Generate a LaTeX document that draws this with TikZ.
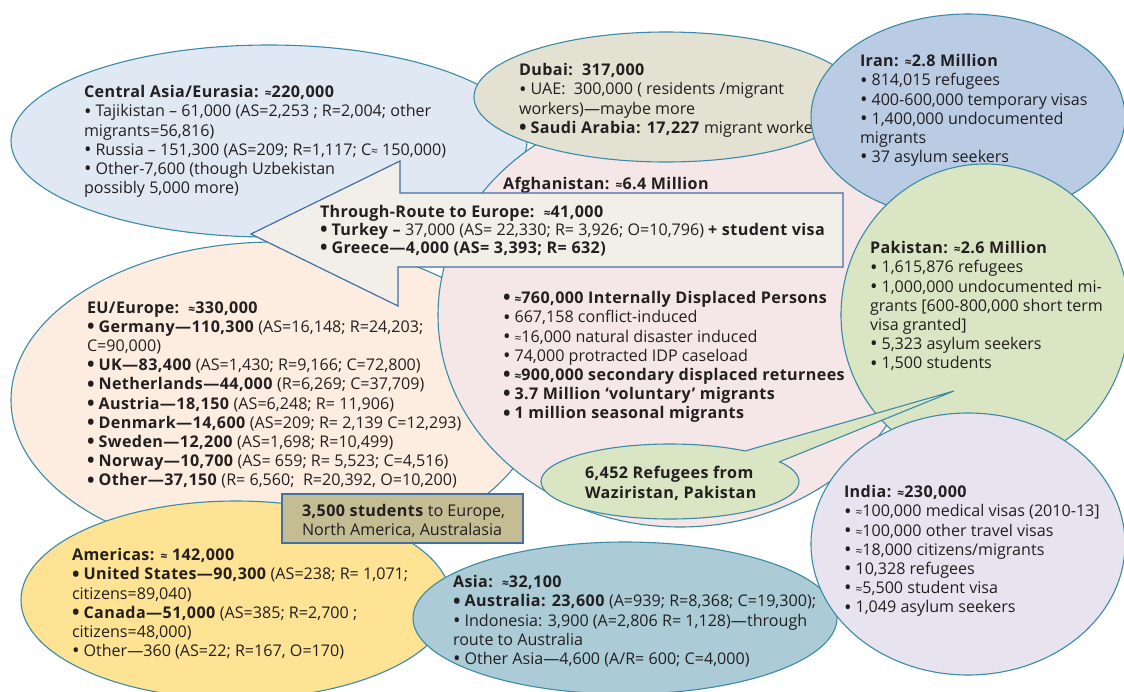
\documentclass[tikz,border=0pt]{standalone}
\usepackage{fontspec}
\setmainfont{Open Sans}[BoldFeatures={LetterSpace=2.5}]
\usetikzlibrary{shapes.geometric}
\definecolor{edgeteal}{HTML}{3C8AA6}
\definecolor{edgeblue}{HTML}{446FA3}
\definecolor{inkc}{HTML}{231F20}
\definecolor{caF}{HTML}{E0E9F3}
\definecolor{euF}{HTML}{FDEDE1}
\definecolor{afF}{HTML}{F5E6E7}
\definecolor{duF}{HTML}{E3E1D1}
\definecolor{irF}{HTML}{B9CCE4}
\definecolor{pkF}{HTML}{DAE5C3}
\definecolor{thF}{HTML}{F1EFE8}
\definecolor{amF}{HTML}{FDE393}
\definecolor{stF}{HTML}{C4BC92}
\definecolor{asF}{HTML}{ABCCD7}
\definecolor{inF}{HTML}{E7E4EF}
\newcommand{\ap}{{\fontsize{12}{12}\selectfont ≈}}
\newcommand{\bu}{{\fontsize{20}{20}\selectfont\raisebox{-1.2pt}{•}}\hspace{.25em}}
\tikzset{
  blob/.style={ellipse,draw=edgeteal,line width=1.1pt,inner sep=0pt,outer sep=0pt},
  txt/.style={anchor=north west,inner sep=0pt,outer sep=0pt,align=left,text=inkc,yshift=-2.5pt,
    font=\fontsize{16.1}{19.2}\selectfont,execute at begin node=\strut},
  arrowtxt/.style={txt,font=\fontsize{16.1}{17.7}\selectfont},
  arrowshape/.style={draw=edgeblue,line width=1.2pt,fill=thF,line join=miter}
}
\begin{document}
\begin{tikzpicture}[x=1pt,y=-1pt]
\clip (0,0) rectangle (1124,691);
\fill[white] (0,0) rectangle (1124,691);
% Central Asia
\node[blob,fill=caF,minimum width=516pt,minimum height=192pt] (ca) at (269,141) {};
\node[txt] (caT) at (84,83) {\textbf{Central Asia/Eurasia: \ap220,000}\\
\bu Tajikistan – 61,000 (AS=2,253 ; R=2,004; other\\
migrants=56,816)\\
\bu Russia – 151,300 (AS=209; R=1,117; C\ap\ 150,000)\\
\bu Other-7,600 (though Uzbekistan\\
possibly 5,000 more)};
% EU
\node[blob,fill=euF,minimum width=528pt,minimum height=316pt] (eu) at (275,400) {};
% Afghanistan
\node[blob,fill=afF,minimum width=484pt,minimum height=424pt] (af) at (680,315) {};
\node[txt] (afT) at (503,174) {\textbf{Afghanistan: \ap6.4 Million}};
\node[txt] (afL) at (503,289) {\textbf{\bu\ap760,000 Internally Displaced Persons}\\
\bu 667,158 conflict-induced\\
\bu\ap16,000 natural disaster induced\\
\bu 74,000 protracted IDP caseload\\
\textbf{\bu\ap900,000 secondary displaced returnees}\\
\textbf{\bu 3.7 Million ‘voluntary' migrants}\\
\textbf{\bu 1 million seasonal migrants}};
\node[txt] (euT) at (87,299) {\textbf{EU/Europe:\ \ \ap330,000}\\
\textbf{\bu Germany—110,300} (AS=16,148; R=24,203;\\
C=90,000)\\
\textbf{\bu UK—83,400} (AS=1,430; R=9,166; C=72,800)\\
\textbf{\bu Netherlands—44,000} (R=6,269; C=37,709)\\
\textbf{\bu Austria—18,150} (AS=6,248; R= 11,906)\\
\textbf{\bu Denmark—14,600} (AS=209; R= 2,139 C=12,293)\\
\textbf{\bu Sweden—12,200} (AS=1,698; R=10,499)\\
\textbf{\bu Norway—10,700} (AS= 659; R= 5,523; C=4,516)\\
\textbf{\bu Other—37,150} (R= 6,560;\ \ R=20,392, O=10,200)};
% Dubai
\node[blob,fill=duF,minimum width=384pt,minimum height=130pt] (du) at (666,97) {};
\node[txt] (duT) at (519,61) {\textbf{Dubai:\ \ 317,000}\\
\bu UAE:\ \ 300,000 ( residents /migrant\\
workers)—maybe more\\
\textbf{\bu Saudi Arabia: 17,227} migrant workers};
% Iran
\node[blob,fill=irF,minimum width=314pt,minimum height=206pt] (ir) at (968,117) {};
\node[txt] (irT) at (860,52) {\textbf{Iran: \ap2.8 Million}\\
\bu 814,015 refugees\\
\bu 400-600,000 temporary visas\\
\bu 1,400,000 undocumented\\
migrants\\
\bu 37 asylum seekers};
% Pakistan
\node[blob,fill=pkF,minimum width=288pt,minimum height=302pt] (pk) at (985,315) {};
\node[txt] (pkT) at (870,239) {\textbf{Pakistan: \ap2.6 Million}\\
\bu 1,615,876 refugees\\
\bu 1,000,000 undocumented mi-\\
grants [600-800,000 short term\\
visa granted]\\
\bu 5,323 asylum seekers\\
\bu 1,500 students};
% Through-route arrow
\coordinate (t1) at (251,234);
\coordinate (t2) at (400,161);
\coordinate (t3) at (400,193);
\coordinate (t4) at (843,193);
\coordinate (t5) at (843,267);
\coordinate (t6) at (398,267);
\coordinate (t7) at (398,306);
\draw[arrowshape] (t1) -- (t2) -- (t3) -- (t4) -- (t5) -- (t6) -- (t7) -- cycle;
\node[arrowtxt] (thT) at (320,203) {\textbf{Through-Route to Europe:\ \ \ap41,000}\\
\textbf{\bu Turkey –} 37,000 (AS= 22,330; R= 3,926; O=10,796) \textbf{+ student visa}\\
\textbf{\bu Greece—4,000 (AS= 3,393; R= 632)}};
% Americas
\node[blob,fill=amF,minimum width=430pt,minimum height=198pt] (am) at (236,600) {};
\node[txt] (amT) at (72,546) {\textbf{Americas: \ap\ 142,000}\\
\textbf{\bu United States—90,300} (AS=238; R= 1,071;\\
citizens=89,040)\\
\textbf{\bu Canada—51,000} (AS=385; R=2,700 ;\\
citizens=48,000)\\
\bu Other—360 (AS=22; R=167, O=170)};
% Students box
\node[draw=edgeblue,line width=1.2pt,fill=stF,minimum width=241pt,minimum height=49pt,inner sep=0pt,outer sep=0pt] (st) at (402.5,518.5) {};
\node[txt] (stT) at (302,502) {\textbf{3,500 students} to Europe,\\North America, Australasia};
% Asia
\node[blob,fill=asF,minimum width=424pt,minimum height=152pt] (as) at (625,618) {};
\node[txt] (asT) at (453,573) {\textbf{Asia:\ \ \ap32,100}\\
\textbf{\bu Australia: 23,600} (A=939; R=8,368; C=19,300);\\
\bu Indonesia: 3,900 (A=2,806 R= 1,128)—through\\
route to Australia\\
\bu Other Asia—4,600 (A/R= 600; C=4,000)};
% India
\node[blob,fill=inF,minimum width=314pt,minimum height=262pt] (in) at (968,544) {};
\node[txt] (inT) at (844,483) {\textbf{India: \ap230,000}\\
\bu\ap100,000 medical visas (2010-13]\\
\bu\ap100,000 other travel visas\\
\bu\ap18,000 citizens/migrants\\
\bu 10,328 refugees\\
\bu\ap5,500 student visa\\
\bu 1,049 asylum seekers};
% Waziristan callout
\node[blob,fill=pkF,minimum width=258pt,minimum height=75pt] (wz) at (670,481.5) {};
\coordinate (w1) at (745,451);
\coordinate (w2) at (954,391);
\coordinate (w3) at (779,462);
\fill[pkF] (w1) -- (w2) -- (w3) -- (765,478) -- (735,470) -- cycle;
\draw[edgeteal,line width=1.1pt] (w1) -- (w2) -- (w3);
\node[txt] (wzT) at (585,464) {\textbf{6,452 Refugees from}\\\textbf{Waziristan, Pakistan}};
\end{tikzpicture}
\end{document}
